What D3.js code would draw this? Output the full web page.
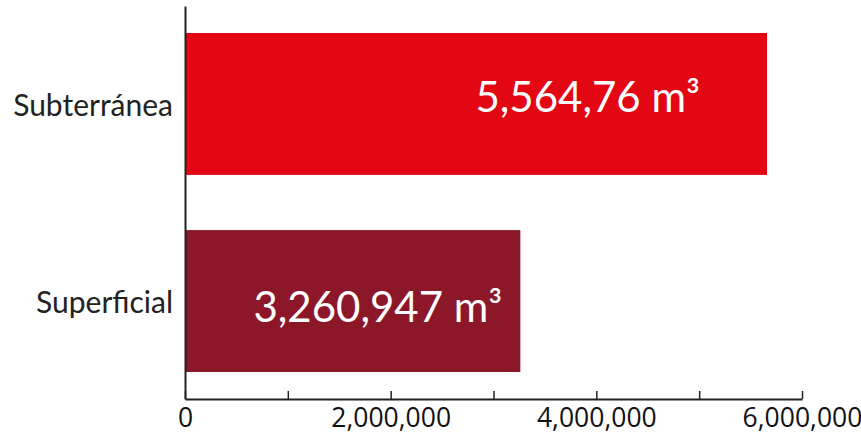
<!DOCTYPE html>
<html><head><meta charset="utf-8">
<script src="https://cdn.jsdelivr.net/npm/d3@7/dist/d3.min.js"></script>
<style>body{margin:0;background:#fff}svg{display:block}</style>
</head><body><svg id="c" width="861" height="434"></svg>
<script>
const categories = ["Subterránea", "Superficial"];
const values = [5660000, 3260947];
const valueLabels = ["5,564,76 m³", "3,260,947 m³"];
const colors = ["#E30613", "#8C1729"];
const tickValues = [0, 1000000, 2000000, 3000000, 4000000, 5000000, 6000000];
const tickLabels = ["0", "", "2,000,000", "", "4,000,000", "", "6,000,000"];

(function () {
const svg = d3.select("#c");
const mLeft = 185, mRight = 802, mTop = 6, mBottom = 399;
const x = d3.scaleLinear().domain([0, 6000000]).range([mLeft, mRight]);
const y = d3.scaleBand().domain(categories).range([mTop, mBottom]).paddingInner(0.28).paddingOuter(0.137);

svg.selectAll("rect.bar").data(values).join("rect").attr("class", "bar")
  .attr("x", x(0)).attr("y", (d, i) => y(categories[i]))
  .attr("width", d => x(d) - x(0)).attr("height", y.bandwidth())
  .attr("fill", (d, i) => colors[i]);

// x axis
const xa = svg.append("g").attr("transform", `translate(0,${mBottom})`)
  .call(d3.axisBottom(x).tickValues(tickValues).tickFormat((d, i) => tickLabels[i]).tickSizeInner(-8).tickSizeOuter(0));
xa.select(".domain").attr("stroke", "#222").attr("stroke-width", 2);
xa.selectAll(".tick line").attr("stroke", "#222").attr("stroke-width", 1.5);
xa.selectAll(".tick text").attr("fill", "#111").attr("y", 28).attr("dy", 0)
  .style("font-family", "'Open Sans', sans-serif").style("font-size", "26.5px");

// y axis
const ya = svg.append("g").attr("transform", `translate(${mLeft},0)`)
  .call(d3.axisLeft(y).tickSize(0).tickPadding(12));
ya.select(".domain").attr("stroke", "#222").attr("stroke-width", 2);
ya.selectAll(".tick text").attr("fill", "#222").style("font-family", "Lato, 'Open Sans', sans-serif").style("font-size", "30px").attr("dy", "0.39em");

// value labels
const offs = [67, 18];
const base = [8, 21];
svg.selectAll("text.val").data(values).join("text").attr("class", "val")
  .attr("x", (d, i) => x(d) - offs[i])
  .attr("y", (d, i) => y(categories[i]) + y.bandwidth() / 2 + base[i])
  .attr("text-anchor", "end")
  .attr("fill", "#fff").style("font-family", "Lato, 'Open Sans', sans-serif").style("font-size", "42px")
  .text((d, i) => valueLabels[i]);
})();
</script></body></html>
